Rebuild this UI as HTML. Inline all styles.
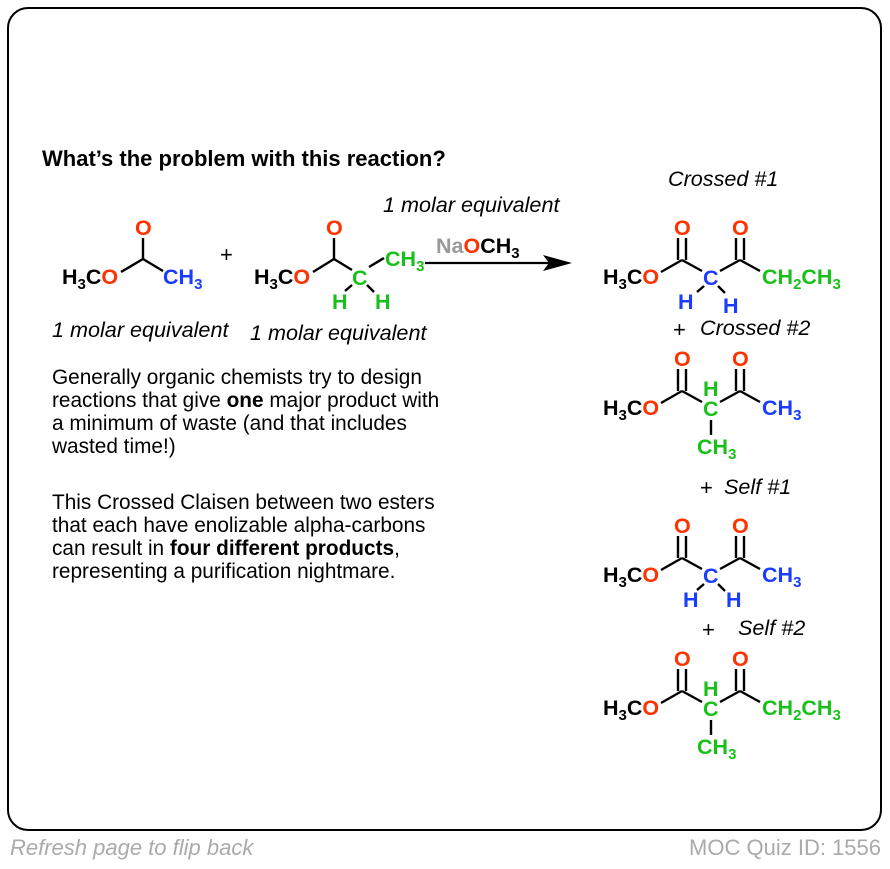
<!DOCTYPE html>
<html><head><meta charset="utf-8"><style>
body{margin:0;background:#fff;width:890px;height:864px;overflow:hidden}
svg text{font-family:"Liberation Sans",Arial,sans-serif}
.a{font-weight:bold;font-size:21.5px}
.s{font-size:15px}
.r{fill:#ff3300}.b{fill:#1a3cff}.g{fill:#19c019}.k{fill:#000}
.i{font-style:italic;font-size:21.6px}
.p{font-size:20.8px}
.pl{font-size:22px}
line{stroke:#000;stroke-width:2.4}
</style></head><body>
<svg width="890" height="864" viewBox="0 0 890 864" xmlns="http://www.w3.org/2000/svg">
<rect x="8" y="8" width="873" height="822" rx="20" fill="none" stroke="#000" stroke-width="2"/>
<text x="10" y="855" style="font-style:italic;font-size:22px" fill="#aaa">Refresh page to flip back</text>
<text x="881" y="855" text-anchor="end" style="font-size:22px" fill="#aaa">MOC Quiz ID: 1556</text>

<text x="42" y="166" style="font-weight:bold;font-size:22px">What’s the problem with this reaction?</text>

<!-- reactant 1 -->
<text class="a" x="62" y="284">H<tspan class="s" dy="5">3</tspan><tspan dy="-5">C</tspan><tspan class="r">O</tspan></text>
<line x1="121" y1="272" x2="143" y2="259"/>
<line x1="143" y1="259" x2="143" y2="238"/>
<line x1="143" y1="259" x2="163" y2="271"/>
<text class="a r" x="135" y="235">O</text>
<text class="a b" x="163" y="284">CH<tspan class="s" dy="5">3</tspan></text>
<text x="220" y="262" style="font-size:22px">+</text>

<!-- reactant 2 -->
<text class="a" x="254" y="284">H<tspan class="s" dy="5">3</tspan><tspan dy="-5">C</tspan><tspan class="r">O</tspan></text>
<line x1="313" y1="272" x2="334" y2="259"/>
<line x1="334" y1="259" x2="334" y2="238"/>
<line x1="334" y1="259" x2="352" y2="270"/>
<text class="a r" x="326" y="235">O</text>
<text class="a g" x="352" y="285">C</text>
<line x1="369" y1="267" x2="384" y2="258"/>
<text class="a g" x="385" y="266">CH<tspan class="s" dy="5">3</tspan></text>
<line x1="352" y1="285" x2="345" y2="291"/>
<line x1="367" y1="285" x2="374" y2="292"/>
<text class="a g" x="332" y="309">H</text>
<text class="a g" x="375" y="309">H</text>

<line x1="425" y1="263" x2="552" y2="263" style="stroke-width:2.2"/>
<polygon points="572,263 543,255 549,263 543,271" fill="#000"/>
<text class="a" x="436" y="253"><tspan fill="#999">Na</tspan><tspan class="r">O</tspan>CH<tspan class="s" dy="5">3</tspan></text>
<text class="i" x="383" y="212">1 molar equivalent</text>
<text class="i" x="52" y="337">1 molar equivalent</text>
<text class="i" x="250" y="340">1 molar equivalent</text>

<text class="p" x="52" y="384">Generally organic chemists try to design</text>
<text class="p" x="52" y="407">reactions that give <tspan font-weight="bold">one</tspan> major product with</text>
<text class="p" x="52" y="430">a minimum of waste (and that includes</text>
<text class="p" x="52" y="453">wasted time!)</text>
<text class="p" x="52" y="509">This Crossed Claisen between two esters</text>
<text class="p" x="52" y="532">that each have enolizable alpha-carbons</text>
<text class="p" x="52" y="555">can result in <tspan font-weight="bold">four different products</tspan>,</text>
<text class="p" x="52" y="578">representing a purification nightmare.</text>

<!-- products -->
<text class="i" x="668" y="186">Crossed #1</text>
<text class="pl" x="673" y="337">+</text><text class="i" x="700" y="335">Crossed #2</text>
<text class="pl" x="700" y="495">+</text><text class="i" x="724" y="494">Self #1</text>
<text class="pl" x="702" y="637">+</text><text class="i" x="738" y="635">Self #2</text>

<defs>
<g id="core">
<text class="a" x="603" y="284">H<tspan class="s" dy="5">3</tspan><tspan dy="-5">C</tspan><tspan class="r">O</tspan></text>
<line x1="661" y1="272" x2="682" y2="260"/>
<line x1="678" y1="260" x2="678" y2="238"/>
<line x1="686" y1="260" x2="686" y2="238"/>
<line x1="682" y1="260" x2="702" y2="271"/>
<text class="a r" x="674" y="235">O</text>
<line x1="720" y1="271" x2="740" y2="260"/>
<line x1="736" y1="260" x2="736" y2="238"/>
<line x1="744" y1="260" x2="744" y2="238"/>
<line x1="740" y1="260" x2="760" y2="271"/>
<text class="a r" x="732" y="235">O</text>
</g>
<g id="hh">
<line x1="704" y1="286" x2="697" y2="292"/>
<line x1="718" y1="286" x2="725" y2="293"/>
</g>
<g id="me">
<line x1="711" y1="289" x2="711" y2="304"/>
</g>
</defs>

<!-- P1 -->
<use href="#core"/>
<text class="a b" x="703" y="285">C</text>
<use href="#hh"/>
<text class="a b" x="678" y="309">H</text>
<text class="a b" x="723" y="313">H</text>
<text class="a g" x="762" y="284">CH<tspan class="s" dy="5">2</tspan><tspan dy="-5">CH</tspan><tspan class="s" dy="5">3</tspan></text>

<!-- P2 -->
<g transform="translate(0,131)">
<use href="#core"/>
<text class="a g" x="703" y="285">C</text>
<text class="a g" x="703" y="265">H</text>
<use href="#me"/>
<text class="a g" x="697" y="323">CH<tspan class="s" dy="5">3</tspan></text>
<text class="a b" x="762" y="284">CH<tspan class="s" dy="5">3</tspan></text>
</g>

<!-- P3 -->
<g transform="translate(0,298)">
<use href="#core"/>
<text class="a b" x="703" y="285">C</text>
<use href="#hh"/>
<text class="a b" x="683" y="309">H</text>
<text class="a b" x="726" y="309">H</text>
<text class="a b" x="762" y="284">CH<tspan class="s" dy="5">3</tspan></text>
</g>

<!-- P4 -->
<g transform="translate(0,431)">
<use href="#core"/>
<text class="a g" x="703" y="285">C</text>
<text class="a g" x="703" y="265">H</text>
<use href="#me"/>
<text class="a g" x="697" y="323">CH<tspan class="s" dy="5">3</tspan></text>
<text class="a g" x="762" y="284">CH<tspan class="s" dy="5">2</tspan><tspan dy="-5">CH</tspan><tspan class="s" dy="5">3</tspan></text>
</g>
</svg>
</body></html>
